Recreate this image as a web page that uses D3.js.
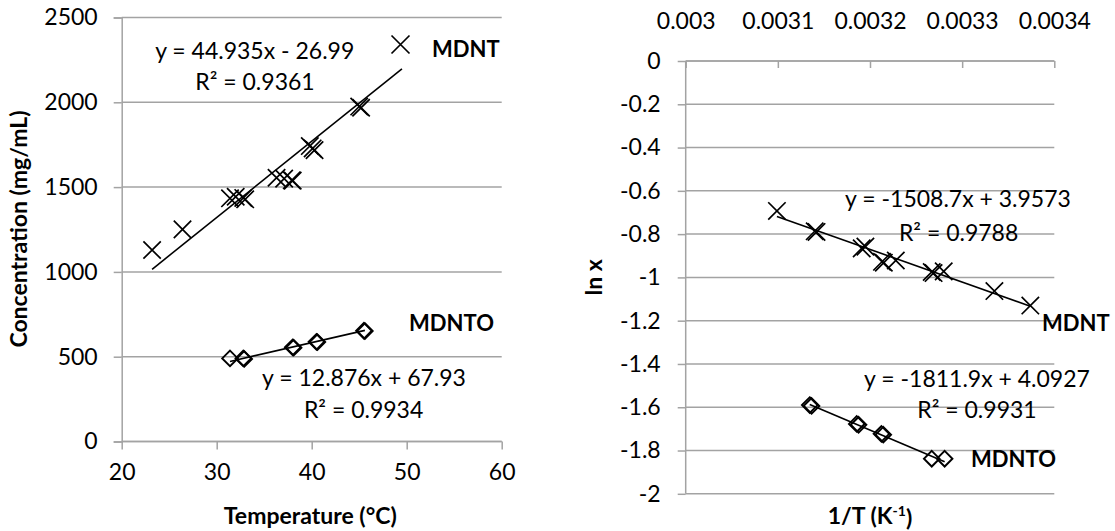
<!DOCTYPE html>
<html><head><meta charset="utf-8">
<script src="https://cdn.jsdelivr.net/npm/d3@7"></script>
<style>
html,body{margin:0;padding:0;background:#fff;}
svg{display:block;font-family:Lato,"Noto Sans",sans-serif;}
</style></head>
<body>
<svg id="c" width="1115" height="531"></svg>
<script>
// ---------- data ----------
// Left chart: Concentration vs Temperature
const leftXTicks = [20, 30, 40, 50, 60];
const leftYTicks = [0, 500, 1000, 1500, 2000, 2500];
const mdntT = [23.2, 26.4, 31.4, 32.0, 32.8, 33.0, 36.3, 37.1, 37.9, 38.0, 39.8, 40.1, 40.3, 45.0, 45.2];
const mdntC = [1129, 1251, 1434, 1443, 1436, 1428, 1555, 1550, 1540, 1538, 1742, 1728, 1718, 1975, 1968];
const mdntoT = [31.4, 32.8, 32.9, 38.0, 38.1, 40.5, 40.6, 45.5, 45.6];
const mdntoC = [490, 490, 487, 555, 553, 588, 586, 653, 651];
const leftFitMdnt = [44.935, -26.99];   // slope, intercept
const leftFitMdnto = [12.876, 67.93];
const leftFitMdntEnd = 49.5;           // trendline forecast end
const leftEq = ["y = 44.935x - 26.99", "R² = 0.9361", "y = 12.876x + 67.93", "R² = 0.9934"];

// Right chart: ln x vs 1/T
const rightXTicks = [0.003, 0.0031, 0.0032, 0.0033, 0.0034];
const rightYTicks = [0, -0.2, -0.4, -0.6, -0.8, -1, -1.2, -1.4, -1.6, -1.8, -2];
const invT1 = [0.003099, 0.003140, 0.003142, 0.003191, 0.003195, 0.003213, 0.003215, 0.003228, 0.003267, 0.003269, 0.003280, 0.003335, 0.003374];
const lnX1 = [-0.693, -0.787, -0.790, -0.866, -0.858, -0.928, -0.932, -0.922, -0.975, -0.980, -0.972, -1.063, -1.130];
const invT2 = [0.0031346, 0.0031366, 0.0031856, 0.0031876, 0.0032124, 0.0032144, 0.003267, 0.003281];
const lnX2 = [-1.590, -1.594, -1.677, -1.681, -1.723, -1.727, -1.838, -1.838];
const rightFitMdnt = [-1508.7, 3.9573];
const rightFitMdnto = [-1811.9, 4.0927];
const rightEq = ["y = -1508.7x + 3.9573", "R² = 0.9788", "y = -1811.9x + 4.0927", "R² = 0.9931"];

// ---------- drawing ----------
const svg = d3.select("#c");
const GRID = "#a3a3a3", FS = 23, FSB = 22;

function xMarker(g, x, y, s) {
  g.append("path").attr("d", `M${x-s},${y-s}L${x+s},${y+s}M${x-s},${y+s}L${x+s},${y-s}`)
    .attr("stroke", "#000").attr("stroke-width", 1.7).attr("fill", "none");
}
function diamond(g, x, y, s) {
  g.append("path").attr("d", `M${x},${y-s}L${x+s},${y}L${x},${y+s}L${x-s},${y}Z`)
    .attr("stroke", "#000").attr("stroke-width", 1.9).attr("fill", "none");
}
function fitLine(g, xs, ys, fit, x0, x1) {
  g.append("line")
    .attr("x1", xs(x0)).attr("y1", ys(fit[0]*x0 + fit[1]))
    .attr("x2", xs(x1)).attr("y2", ys(fit[0]*x1 + fit[1]))
    .attr("stroke", "#000").attr("stroke-width", 1.6);
}
function label(x, y, t, opts = {}) {
  return svg.append("text").attr("x", x).attr("y", y).attr("dy", "0.35em")
    .attr("text-anchor", opts.anchor || "middle")
    .attr("font-size", opts.size || (opts.bold ? FSB : FS))
    .attr("font-weight", opts.bold ? "bold" : "normal")
    .attr("fill", "#000").text(t);
}

// ----- Left chart -----
{
  const x = d3.scaleLinear().domain([20, 60]).range([121.7, 501.7]);
  const y = d3.scaleLinear().domain([0, 2500]).range([441.5, 17.5]);
  const g = svg.append("g");
  g.selectAll("line.grid").data(leftYTicks).join("line")
    .attr("x1", x(20)).attr("x2", x(60)).attr("y1", d => y(d)).attr("y2", d => y(d))
    .attr("stroke", GRID).attr("stroke-width", 1.5);
  const ya = g.append("g").attr("transform", `translate(${x(20)},0)`)
    .call(d3.axisLeft(y).tickValues(leftYTicks).tickSize(8).tickPadding(16).tickFormat(d3.format("d")));
  const xa = g.append("g").attr("transform", `translate(0,${y(0)})`)
    .call(d3.axisBottom(x).tickValues(leftXTicks).tickSize(8).tickPadding(14).tickFormat(d3.format("d")));
  [ya, xa].forEach(a => {
    a.select(".domain").attr("stroke", GRID).attr("stroke-width", 1.5);
    a.selectAll(".tick line").attr("stroke", GRID).attr("stroke-width", 1.5);
    a.selectAll("text").attr("font-size", FS).attr("font-family", "Lato").attr("fill", "#000");
  });
  xa.select(".domain").attr("d", `M${x(20)},0H${x(60)}`);
  fitLine(g, x, y, leftFitMdnt, d3.min(mdntT), leftFitMdntEnd);
  fitLine(g, x, y, leftFitMdnto, d3.min(mdntoT), d3.max(mdntoT));
  mdntT.forEach((t, i) => xMarker(g, x(t), y(mdntC[i]), 8.7));
  mdntoT.forEach((t, i) => diamond(g, x(t), y(mdntoC[i]), 7.8));
  xMarker(g, 400.5, 44.5, 9);
  label(432, 49, "MDNT", {anchor: "start", bold: true});
  label(409, 323, "MDNTO", {anchor: "start", bold: true});
  label(254.7, 51, leftEq[0]);
  label(255, 82, leftEq[1]);
  label(364, 378, leftEq[2]);
  label(363.6, 410, leftEq[3]);
  svg.append("text").attr("transform", "translate(19,229) rotate(-90)")
    .attr("text-anchor", "middle").attr("dy", "0.35em").attr("font-size", 23).attr("font-weight", "bold")
    .text("Concentration (mg/mL)");
  label(310.3, 516, "Temperature (°C)", {bold: true, size: 23});
}

// ----- Right chart -----
{
  const x = d3.scaleLinear().domain([0.003, 0.0034]).range([685.7, 1054.3]);
  const y = d3.scaleLinear().domain([0, -2]).range([61, 493.8]);
  const g = svg.append("g");
  g.selectAll("line.grid").data(rightYTicks).join("line")
    .attr("x1", x(0.003)).attr("x2", x(0.0034)).attr("y1", d => y(d)).attr("y2", d => y(d))
    .attr("stroke", GRID).attr("stroke-width", 1.5);
  const ya = g.append("g").attr("transform", `translate(${x(0.003)},0)`)
    .call(d3.axisLeft(y).tickValues(rightYTicks).tickSize(8).tickPadding(17).tickFormat(d => d === 0 ? "0" : String(d)));
  const xa = g.append("g").attr("transform", `translate(0,${y(0)})`)
    .call(d3.axisBottom(x).tickValues(rightXTicks).tickSize(7).tickFormat(d => String(+d.toFixed(4))));
  xa.selectAll(".tick text").attr("y", -(y(0) - 20.7)).attr("dy", "0.35em");
  [ya, xa].forEach(a => {
    a.select(".domain").attr("stroke", GRID).attr("stroke-width", 1.5);
    a.selectAll(".tick line").attr("stroke", GRID).attr("stroke-width", 1.5);
    a.selectAll("text").attr("font-size", FS).attr("font-family", "Lato").attr("fill", "#000");
  });
  xa.select(".domain").attr("d", `M${x(0.003)},0H${x(0.0034)}`);
  ya.select(".domain").attr("d", `M0,${y(0)}V${y(-2)}`);
  fitLine(g, x, y, rightFitMdnt, d3.min(invT1), d3.max(invT1));
  fitLine(g, x, y, rightFitMdnto, d3.min(invT2), d3.max(invT2));
  invT1.forEach((t, i) => xMarker(g, x(t), y(lnX1[i]), 8.7));
  invT2.forEach((t, i) => diamond(g, x(t), y(lnX2[i]), 7.8));
  label(1042, 323, "MDNT", {anchor: "start", bold: true});
  label(971, 459, "MDNTO", {anchor: "start", bold: true});
  label(958, 199, rightEq[0]);
  label(958.6, 233, rightEq[1]);
  label(977, 379, rightEq[2]);
  label(977, 410, rightEq[3]);
  svg.append("text").attr("transform", `translate(594,${(y(0)+y(-2))/2}) rotate(-90)`)
    .attr("text-anchor", "middle").attr("dy", "0.35em").attr("font-size", 23).attr("font-weight", "bold")
    .text("ln x");
  const t = svg.append("text").attr("x", 870).attr("y", 516).attr("dy", "0.35em")
    .attr("text-anchor", "middle").attr("font-size", 23).attr("font-weight", "bold");
  t.append("tspan").text("1/T (K");
  t.append("tspan").attr("font-size", 14).attr("dy", "-0.6em").text("-1");
  t.append("tspan").attr("dy", "0.45em").text(")");
}
</script>
</body></html>
